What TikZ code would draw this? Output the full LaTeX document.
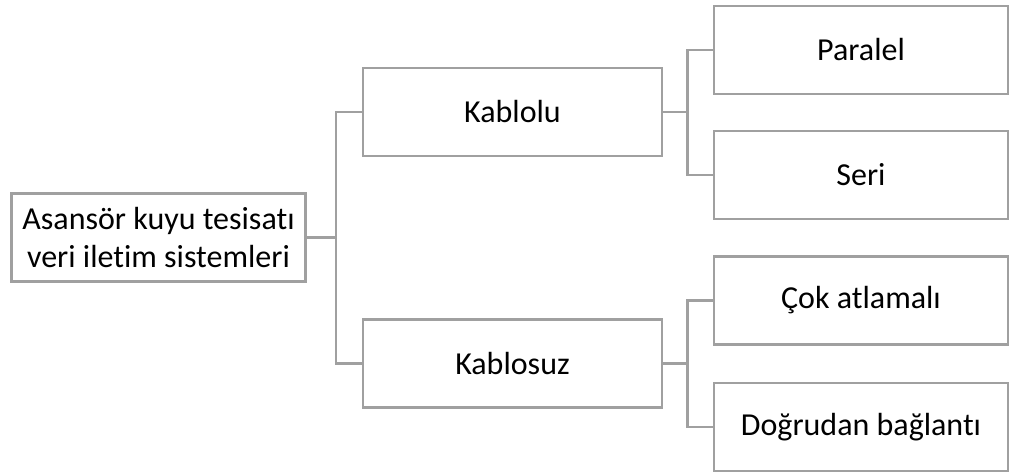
\documentclass[tikz,border=0pt]{standalone}
\usepackage{fontspec}
\setmainfont[Ligatures=NoCommon]{Carlito}
\usetikzlibrary{positioning}

\tikzset{
  box/.style={draw=boxgray, line width=2pt, fill=white, minimum width=220.5pt, minimum height=66pt,
    inner sep=2pt, align=center, font=\fontsize{24}{28.5}\selectfont},
  link/.style={draw=boxgray, line width=2pt}
}
\definecolor{boxgray}{RGB}{160,160,160}

\begin{document}
\begin{tikzpicture}[x=0.75pt,y=-0.75pt]
\useasboundingbox (0,0) rectangle (1011,475);
\node[box] (sistem) at (158.5,237.5) {Asansör kuyu tesisatı\\veri iletim sistemleri};
\node[box, minimum width=224.25pt] (kablolu) at (512.5,112) {Kablolu};
\node[box, minimum width=224.25pt] (kablosuz) at (512.5,363.5) {Kablosuz};
\node[box] (paralel) at (861,50) {Paralel};
\node[box] (seri) at (861,175) {Seri};
\node[box] (cok) at (861,300.5) {Çok atlamalı};
\node[box] (dogrudan) at (861,427) {Doğrudan bağlantı};
% dallar
\draw[link] (sistem.east) -- ++(29,0) |- (kablolu.west);
\draw[link] (sistem.east) -- ++(29,0) |- (kablosuz.west);
\draw[link] (kablolu.east) -- ++(24,0) |- (paralel.west);
\draw[link] (kablolu.east) -- ++(24,0) |- (seri.west);
\draw[link] (kablosuz.east) -- ++(24,0) |- (cok.west);
\draw[link] (kablosuz.east) -- ++(24,0) |- (dogrudan.west);
\end{tikzpicture}
\end{document}
